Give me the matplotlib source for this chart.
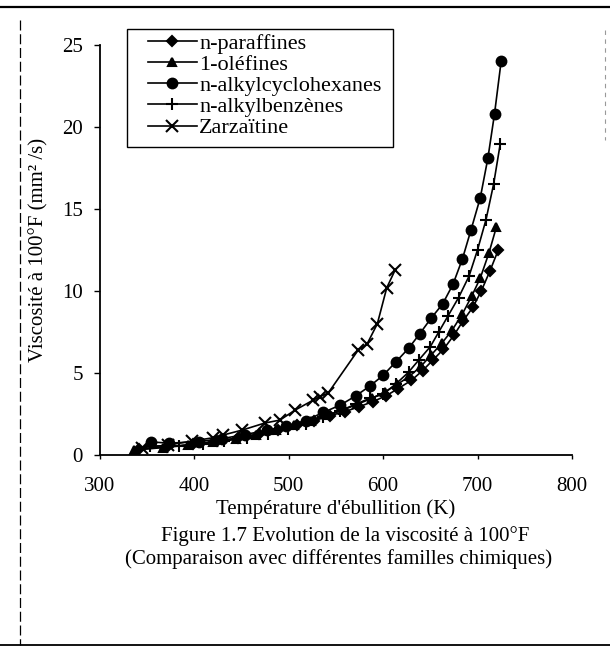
import matplotlib
matplotlib.use("Agg")
import matplotlib.pyplot as plt
from matplotlib.lines import Line2D
from matplotlib.patches import Rectangle

# boiling temperature (K) and viscosity at 100°F (mm2/s) for each family
paraffins_T = [342, 371, 399, 424, 447, 469, 489, 509, 527, 544, 560, 575, 589,
               603, 616, 630, 642, 653, 664, 675, 685, 695, 704, 713, 722]
paraffins_v = [0.35, 0.5, 0.65, 0.85, 1.05, 1.3, 1.55, 1.8, 2.1, 2.4, 2.65, 2.95, 3.25,
               3.6, 4.05, 4.55, 5.15, 5.8, 6.45, 7.3, 8.2, 9.0, 10.0, 11.2, 12.5]

olefins_T = [337, 367, 394, 420, 444, 466, 487, 506, 524, 541, 558, 573, 588,
             602, 615, 628, 640, 651, 662, 673, 684, 694, 703, 712, 720]
olefins_v = [0.3, 0.45, 0.6, 0.8, 1.0, 1.25, 1.5, 1.8, 2.1, 2.45, 2.75, 3.1, 3.45,
             3.85, 4.3, 4.8, 5.4, 6.1, 6.8, 7.6, 8.6, 9.7, 10.8, 12.3, 13.9]

cyclohexanes_T = [354, 374, 405, 430, 454, 477, 497, 518, 537, 555, 571, 586, 600,
                  614, 627, 639, 651, 663, 674, 684, 693, 703, 711, 718, 725]
cyclohexanes_v = [0.8, 0.72, 0.82, 1.0, 1.25, 1.5, 1.75, 2.1, 2.6, 3.05, 3.6, 4.2, 4.85,
                  5.7, 6.5, 7.4, 8.35, 9.2, 10.4, 11.95, 13.7, 15.7, 18.1, 20.8, 24.0]

benzenes_T = [353, 384, 409, 432, 456, 478, 499, 519, 537, 555, 571, 586, 600,
              614, 627, 638, 650, 659, 669, 680, 691, 700, 709, 717, 724]
benzenes_v = [0.55, 0.55, 0.7, 0.85, 1.05, 1.3, 1.6, 1.9, 2.3, 2.7, 3.1, 3.45, 3.7,
              4.35, 5.05, 5.8, 6.6, 7.5, 8.5, 9.6, 10.9, 12.5, 14.35, 16.5, 18.95]

zarzaitine_T = [345, 372, 398, 420, 431, 451, 475, 491, 507, 526, 533, 542,
                574, 583, 594, 604, 613]
zarzaitine_v = [0.45, 0.6, 0.85, 1.05, 1.22, 1.52, 1.95, 2.13, 2.74, 3.34, 3.55, 3.78,
                6.42, 6.75, 8.0, 10.2, 11.3]

labels = ["n-paraffines", "1-oléfines", "n-alkylcyclohexanes",
          "n-alkylbenzènes", "Zarzaïtine"]
xticks = [300, 400, 500, 600, 700, 800]
yticks = [0, 5, 10, 15, 20, 25]

plt.rcParams["font.family"] = ["Liberation Serif", "DejaVu Serif"]
FS = 15

W, H = 610, 651
fig = plt.figure(figsize=(W / 100, H / 100), dpi=100)
ax = fig.add_axes([99.5 / W, 1 - 455 / H, 472.5 / W, 410 / H])

# series: (x, y, marker, size)
series = [
    (paraffins_T, paraffins_v, "D", 5.0),
    (olefins_T, olefins_v, "^", 6.0),
    (cyclohexanes_T, cyclohexanes_v, "o", 7.0),
    (benzenes_T, benzenes_v, "+", 9.0),
    (zarzaitine_T, zarzaitine_v, "x", 8.5),
]
handles = []
for (x, y, m, ms), lab in zip(series, labels):
    h, = ax.plot(x, y, color="black", lw=1.2, marker=m, ms=ms, mew=1.5,
                 mfc="black", mec="black", label=lab, clip_on=False)
    handles.append(h)

ax.set_xlim(300, 800)
ax.set_ylim(0, 25)
ax.set_xticks(xticks)
ax.set_yticks(yticks)
for s in ["top", "right"]:
    ax.spines[s].set_visible(False)
for s in ["left", "bottom"]:
    ax.spines[s].set_linewidth(1.3)
ax.tick_params(axis="y", direction="out", length=4, width=1, pad=8, labelsize=FS)
ax.tick_params(axis="x", direction="out", length=3, width=1, pad=13, labelsize=FS)

ax.set_xlabel("Température d'ébullition (K)", fontsize=FS, labelpad=2)
ax.set_ylabel("Viscosité à 100°F (mm² /s)", fontsize=FS, labelpad=10)

# legend without frame, box drawn separately
leg = ax.legend(handles=handles, loc="upper left", frameon=False,
                bbox_to_anchor=(148 / W, 1 - 33 / H), bbox_transform=fig.transFigure,
                fontsize=16, handlelength=2.2, handletextpad=0.1,
                labelspacing=0.03, borderpad=0.0, borderaxespad=0.0)
fig.add_artist(Rectangle((127 / W, 1 - 147 / H), 266 / W, 118 / H,
                         transform=fig.transFigure, fill=False, lw=1.0,
                         ec="black"))

# caption under the chart
fig.text(345 / W, 1 - 536 / H, "Figure 1.7 Evolution de la viscosité à 100°F",
         ha="center", va="center", fontsize=FS)
fig.text(339 / W, 1 - 559 / H, "(Comparaison avec différentes familles chimiques)",
         ha="center", va="center", fontsize=FS)

# page frame lines
fig.add_artist(Line2D([0, 1], [1 - 7 / H, 1 - 7 / H], transform=fig.transFigure,
                      color="black", lw=1.6))
fig.add_artist(Line2D([0, 1], [1 - 645 / H, 1 - 645 / H], transform=fig.transFigure,
                      color="black", lw=1.3))
fig.add_artist(Line2D([20 / W, 20 / W], [1 - 20 / H, 1 - 645 / H],
                      transform=fig.transFigure, color="black", lw=0.9,
                      ls=(0, (8, 3))))
fig.add_artist(Line2D([605 / W, 605 / W], [1 - 30 / H, 1 - 140 / H],
                      transform=fig.transFigure, color="0.6", lw=0.8,
                      ls=(0, (4, 4))))

fig.savefig("out.png", dpi=100)
